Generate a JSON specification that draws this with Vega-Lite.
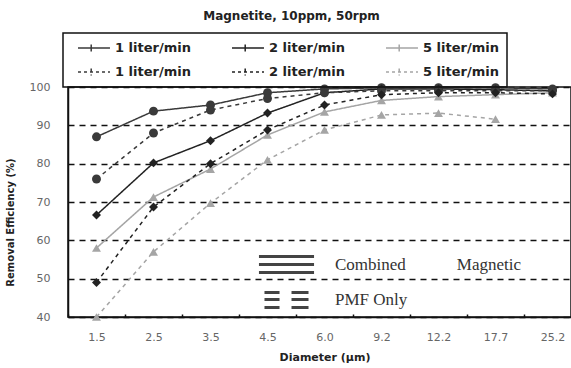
{
  "$schema": "https://vega.github.io/schema/vega-lite/v6.json",
  "autosize": {"type": "none"},
  "padding": {"left": 68, "top": 87, "right": 0, "bottom": 51},
  "width": 503,
  "height": 230,
  "background": "white",
  "title": {"text": "Magnetite, 10ppm, 50rpm", "font": "DejaVu Sans", "fontSize": 12, "fontWeight": "bold", "color": "#222", "anchor": "middle", "dx": -28, "offset": 9},
  "config": {"view": {"stroke": "#111", "strokeWidth": 1.5}, "font": "DejaVu Sans"},
  "data": {"values": [
    {"d": "1.5", "flow": "1 liter/min", "filter": "Combined Magnetic", "eff": 87},
    {"d": "2.5", "flow": "1 liter/min", "filter": "Combined Magnetic", "eff": 93.7},
    {"d": "3.5", "flow": "1 liter/min", "filter": "Combined Magnetic", "eff": 95.3},
    {"d": "4.5", "flow": "1 liter/min", "filter": "Combined Magnetic", "eff": 98.5},
    {"d": "6.0", "flow": "1 liter/min", "filter": "Combined Magnetic", "eff": 99.5},
    {"d": "9.2", "flow": "1 liter/min", "filter": "Combined Magnetic", "eff": 99.8},
    {"d": "12.2", "flow": "1 liter/min", "filter": "Combined Magnetic", "eff": 99.8},
    {"d": "17.7", "flow": "1 liter/min", "filter": "Combined Magnetic", "eff": 99.8},
    {"d": "25.2", "flow": "1 liter/min", "filter": "Combined Magnetic", "eff": 99.5},
    {"d": "1.5", "flow": "2 liter/min", "filter": "Combined Magnetic", "eff": 66.6},
    {"d": "2.5", "flow": "2 liter/min", "filter": "Combined Magnetic", "eff": 80.2},
    {"d": "3.5", "flow": "2 liter/min", "filter": "Combined Magnetic", "eff": 86},
    {"d": "4.5", "flow": "2 liter/min", "filter": "Combined Magnetic", "eff": 93.2},
    {"d": "6.0", "flow": "2 liter/min", "filter": "Combined Magnetic", "eff": 98.5},
    {"d": "9.2", "flow": "2 liter/min", "filter": "Combined Magnetic", "eff": 99.5},
    {"d": "12.2", "flow": "2 liter/min", "filter": "Combined Magnetic", "eff": 99.5},
    {"d": "17.7", "flow": "2 liter/min", "filter": "Combined Magnetic", "eff": 99.3},
    {"d": "25.2", "flow": "2 liter/min", "filter": "Combined Magnetic", "eff": 99},
    {"d": "1.5", "flow": "5 liter/min", "filter": "Combined Magnetic", "eff": 58},
    {"d": "2.5", "flow": "5 liter/min", "filter": "Combined Magnetic", "eff": 71.3},
    {"d": "3.5", "flow": "5 liter/min", "filter": "Combined Magnetic", "eff": 78.6},
    {"d": "4.5", "flow": "5 liter/min", "filter": "Combined Magnetic", "eff": 87.5},
    {"d": "6.0", "flow": "5 liter/min", "filter": "Combined Magnetic", "eff": 93.5},
    {"d": "9.2", "flow": "5 liter/min", "filter": "Combined Magnetic", "eff": 96.5},
    {"d": "12.2", "flow": "5 liter/min", "filter": "Combined Magnetic", "eff": 97.5},
    {"d": "17.7", "flow": "5 liter/min", "filter": "Combined Magnetic", "eff": 98},
    {"d": "25.2", "flow": "5 liter/min", "filter": "Combined Magnetic", "eff": 98.5},
    {"d": "1.5", "flow": "1 liter/min", "filter": "PMF Only", "eff": 76},
    {"d": "2.5", "flow": "1 liter/min", "filter": "PMF Only", "eff": 88},
    {"d": "3.5", "flow": "1 liter/min", "filter": "PMF Only", "eff": 94},
    {"d": "4.5", "flow": "1 liter/min", "filter": "PMF Only", "eff": 97},
    {"d": "6.0", "flow": "1 liter/min", "filter": "PMF Only", "eff": 98.5},
    {"d": "9.2", "flow": "1 liter/min", "filter": "PMF Only", "eff": 99},
    {"d": "12.2", "flow": "1 liter/min", "filter": "PMF Only", "eff": 99},
    {"d": "17.7", "flow": "1 liter/min", "filter": "PMF Only", "eff": 99},
    {"d": "25.2", "flow": "1 liter/min", "filter": "PMF Only", "eff": 99},
    {"d": "1.5", "flow": "2 liter/min", "filter": "PMF Only", "eff": 49},
    {"d": "2.5", "flow": "2 liter/min", "filter": "PMF Only", "eff": 68.7},
    {"d": "3.5", "flow": "2 liter/min", "filter": "PMF Only", "eff": 80},
    {"d": "4.5", "flow": "2 liter/min", "filter": "PMF Only", "eff": 88.8},
    {"d": "6.0", "flow": "2 liter/min", "filter": "PMF Only", "eff": 95.3},
    {"d": "9.2", "flow": "2 liter/min", "filter": "PMF Only", "eff": 98},
    {"d": "12.2", "flow": "2 liter/min", "filter": "PMF Only", "eff": 98.5},
    {"d": "17.7", "flow": "2 liter/min", "filter": "PMF Only", "eff": 98.5},
    {"d": "25.2", "flow": "2 liter/min", "filter": "PMF Only", "eff": 98.2},
    {"d": "1.5", "flow": "5 liter/min", "filter": "PMF Only", "eff": 40},
    {"d": "2.5", "flow": "5 liter/min", "filter": "PMF Only", "eff": 57},
    {"d": "3.5", "flow": "5 liter/min", "filter": "PMF Only", "eff": 69.7},
    {"d": "4.5", "flow": "5 liter/min", "filter": "PMF Only", "eff": 81},
    {"d": "6.0", "flow": "5 liter/min", "filter": "PMF Only", "eff": 88.8},
    {"d": "9.2", "flow": "5 liter/min", "filter": "PMF Only", "eff": 92.7},
    {"d": "12.2", "flow": "5 liter/min", "filter": "PMF Only", "eff": 93.2},
    {"d": "17.7", "flow": "5 liter/min", "filter": "PMF Only", "eff": 91.6}
  ]},
  "transform": [{"calculate": "datum.flow + ', ' + datum.filter", "as": "series"}],
  "encoding": {
    "x": {
      "field": "d", "type": "ordinal", "sort": null,
      "scale": {"type": "band", "domain": ["1.5", "2.5", "3.5", "4.5", "6.0", "9.2", "12.2", "17.7", "25.2"], "range": [0, 513], "paddingInner": 0, "paddingOuter": 0},
      "axis": {
        "title": "Diameter (μm)", "titleFont": "DejaVu Sans", "titleFontSize": 11, "titleFontWeight": "bold", "titleColor": "#222", "titlePadding": 9,
        "labelAngle": 0, "labelFont": "DejaVu Sans", "labelFontSize": 11, "labelColor": "#666", "labelPadding": 17,
        "domain": true, "domainColor": "#111", "domainWidth": 1.5,
        "ticks": true, "tickBand": "extent", "tickSize": -3, "tickColor": "#111", "tickWidth": 1.5, "grid": false
      }
    },
    "y": {
      "field": "eff", "type": "quantitative",
      "scale": {"domain": [40, 100], "nice": false, "zero": false},
      "axis": {
        "values": [40, 50, 60, 70, 80, 90, 100],
        "title": "Removal Efficiency (%)", "titleFont": "DejaVu Sans", "titleFontSize": 10, "titleFontWeight": "bold", "titleColor": "#222",
        "titleX": -58, "titleY": 135, "titleAngle": -90, "titleAlign": "center", "titleBaseline": "middle",
        "labelFont": "DejaVu Sans", "labelFontSize": 11, "labelColor": "#666", "labelPadding": 18,
        "ticks": false, "domain": true, "domainColor": "#111", "domainWidth": 1.5,
        "grid": true, "gridColor": "#111", "gridDash": [6, 5], "gridWidth": 1.5
      }
    }
  },
  "layer": [
    {
      "mark": {"type": "line", "strokeWidth": 1.5},
      "encoding": {
        "color": {
          "field": "series", "type": "nominal",
          "scale": {
            "domain": ["1 liter/min, Combined Magnetic", "2 liter/min, Combined Magnetic", "5 liter/min, Combined Magnetic", "1 liter/min, PMF Only", "2 liter/min, PMF Only", "5 liter/min, PMF Only"],
            "range": ["#3a3a3a", "#222222", "#a5a5a5", "#3a3a3a", "#222222", "#a5a5a5"]
          },
          "legend": {
            "orient": "none", "legendX": -5, "legendY": -54, "direction": "horizontal", "columns": 3, "title": null,
            "strokeColor": "#111", "padding": 8,
            "symbolType": "M0,0H5.33M2.2,-0.6V0.6", "symbolSize": 144, "symbolStrokeWidth": 1.5,
            "labelFont": "DejaVu Sans", "labelFontSize": 13, "labelFontWeight": "bold", "labelColor": "#222",
            "labelOffset": 30, "rowPadding": 10, "columnPadding": 34, "labelLimit": 400,
            "labelExpr": "split(datum.label, ',')[0] + (indexof(datum.label, '5 liter') >= 0 ? '\u2003\u2003\u2003\u2003\u2003\u2003' : '')",
            "encode": {
              "legend": {"update": {"strokeWidth": {"value": 1.5}}},
              "symbols": {"update": {"fill": {"value": "transparent"}, "strokeDash": {"signal": "indexof(datum.value, 'PMF') >= 0 ? [3, 3] : [1, 0]"}}}
            }
          }
        },
        "strokeDash": {
          "field": "filter", "type": "nominal",
          "scale": {"domain": ["Combined Magnetic", "PMF Only"], "range": [[1, 0], [4, 4]]},
          "legend": {
            "orient": "none", "legendX": 209, "legendY": 168, "direction": "vertical", "title": null,
            "symbolSize": 289, "labelFont": "Liberation Serif", "labelFontSize": 17, "labelColor": "#333",
            "labelOffset": 39, "rowPadding": 10, "labelLimit": 400,
            "labelExpr": "replace(datum.label, ' Magnetic', '\u00a0\u00a0\u00a0\u00a0\u00a0\u00a0\u00a0\u00a0\u00a0\u00a0\u00a0\u00a0Magnetic')",
            "encode": {
              "symbols": {"update": {
                "shape": {"signal": "datum.value === 'PMF Only' ? 'M-2.59,-1H-0.82V-0.64H-2.59Z M0.59,-1H2.59V-0.64H0.59Z M-2.59,-0.18H-0.82V0.18H-2.59Z M0.59,-0.18H2.59V0.18H0.59Z M-2.59,0.76H-0.82V1.12H-2.59Z M0.59,0.76H2.59V1.12H0.59Z' : 'M-3.24,-1.12H3.24V-0.76H-3.24Z M-3.24,-0.18H3.24V0.18H-3.24Z M-3.24,0.76H3.24V1.12H-3.24Z'"},
                "fill": {"value": "#444"},
                "stroke": {"value": "transparent"}
              }}
            }
          }
        }
      }
    },
    {
      "mark": {"type": "point", "filled": true, "size": 80, "opacity": 1},
      "encoding": {
        "color": {"field": "series", "type": "nominal", "legend": null},
        "shape": {
          "field": "flow", "type": "nominal",
          "scale": {"domain": ["1 liter/min", "2 liter/min", "5 liter/min"], "range": ["circle", "diamond", "triangle-up"]},
          "legend": null
        }
      }
    }
  ]
}
